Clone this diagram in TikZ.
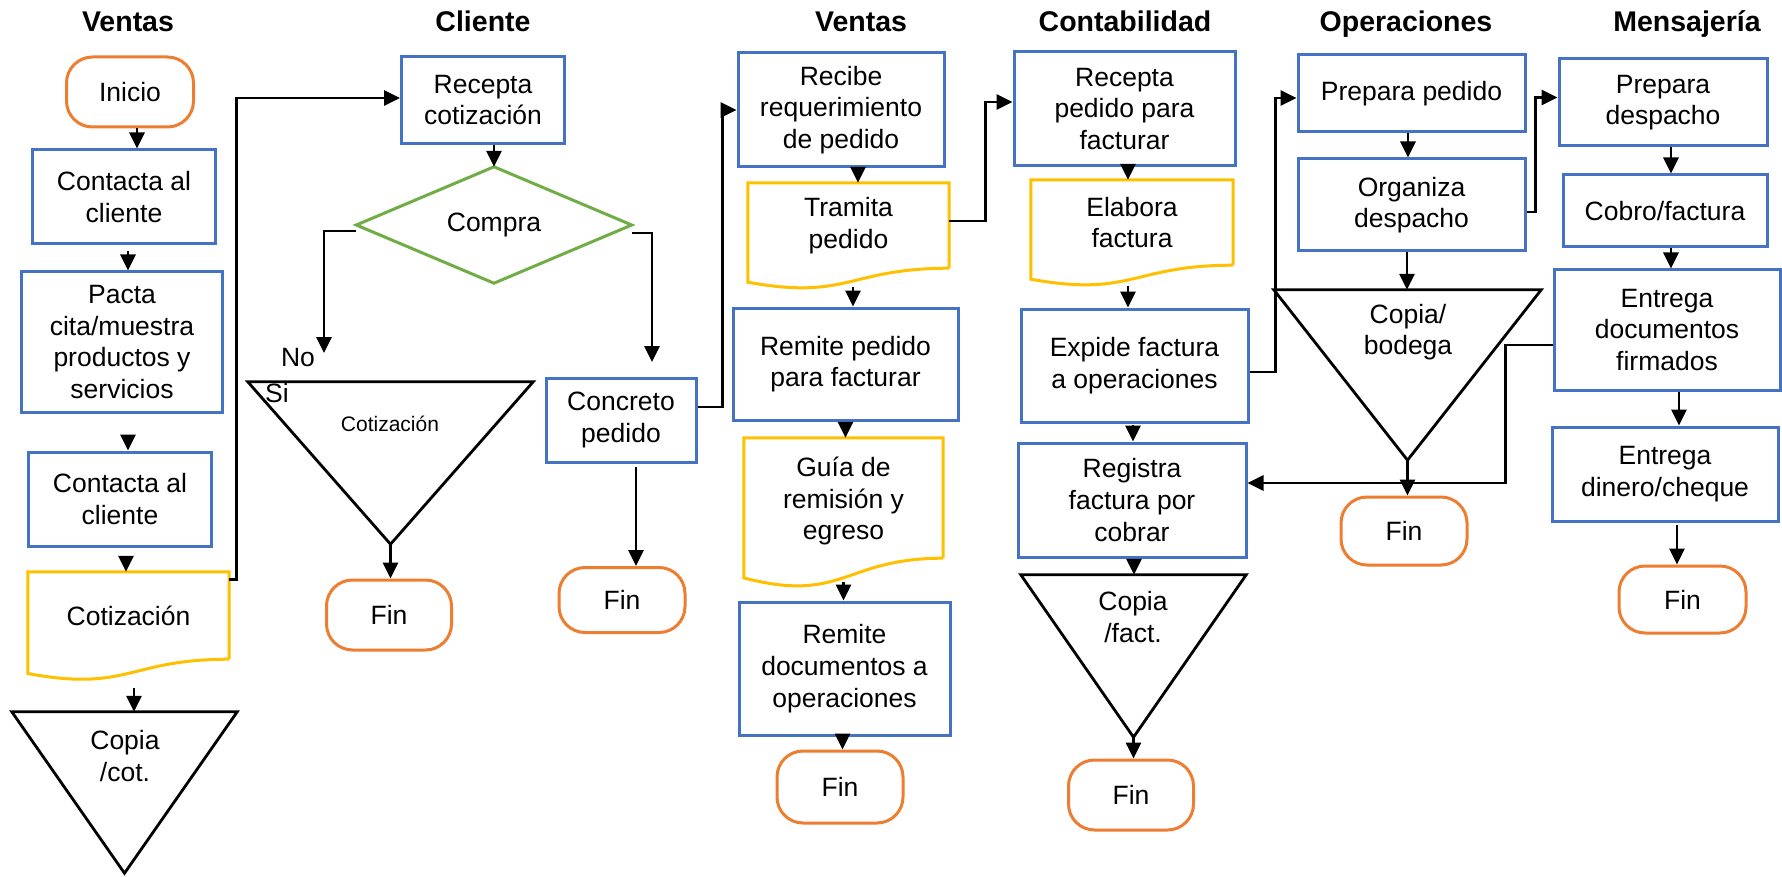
\documentclass[tikz,border=0pt]{standalone}
\usepackage{fontspec}
\setmainfont{Liberation Sans}
\usetikzlibrary{arrows.meta,calc}
\definecolor{bbox}{HTML}{4472C4}
\definecolor{oterm}{HTML}{ED7D31}
\definecolor{ydoc}{HTML}{FFC000}
\definecolor{gdec}{HTML}{70AD47}
\tikzset{
  every node/.style={font=\fontsize{26.5}{31.7}\selectfont, align=center, inner sep=0pt},
  sz/.style 2 args={minimum width=#1pt, minimum height=#2pt},
  proc/.style={draw=bbox, line width=3pt, fill=white},
  term/.style={draw=oterm, line width=3pt, rounded corners=26pt, fill=white},
  ghost/.style={draw=none},
  docline/.style={draw=ydoc, line width=3pt, fill=white},
  triline/.style={draw=black, line width=2.8pt, fill=white},
  decline/.style={draw=gdec, line width=3pt, fill=white},
  arr/.style={line width=2.8pt, -{Triangle[length=16pt,width=15pt]}},
  head/.style={font=\fontsize{28.5}{34}\selectfont\bfseries, anchor=base},
  small/.style={font=\fontsize{21}{25}\selectfont},
}
\newcommand\varr[4]{\draw[arr] ($(#1.south)+(#2,#3)$) -- ($(#1.south |- #4.north)+(#2,0)$);}
\begin{document}
\begin{tikzpicture}[x=1pt,y=-1pt]
\useasboundingbox (0,0) rectangle (1782,877);
\fill[white] (0,0) rectangle (1782,877);

% headings
\node[head] (h1) at (128,32) {Ventas};
\node[head] (h2) at (483,32) {Cliente};
\node[head] (h3) at (861,32) {Ventas};
\node[head] (h4) at (1125,32) {Contabilidad};
\node[head] (h5) at (1406,32) {Operaciones};
\node[head] (h6) at (1687,32) {Mensajería};

% column 1
\node[term, sz={127}{70}] (inicio) at (130,92) {Inicio};
\node[proc, sz={183}{94}] (c1) at (124,197) {Contacta al\\cliente};
\node[proc, sz={201}{140}] (pacta) at (122,342) {Pacta\\cita/muestra\\productos y\\servicios};
\node[proc, sz={183}{94}] (c2) at (120,499) {Contacta al\\cliente};
\node[ghost, sz={201}{87}] (cot) at (128.5,615.5) {};
\draw[docline] (cot.south east) -- (cot.north east) -- (cot.north west) --
  ($(cot.south west)+(0,14.3)$) .. controls ($(cot.south)+(0,33)$) and (cot.south) .. (cot.south east);
\node (cottxt) at (cot) {Cotización};
\node[ghost, sz={225}{161}] (t1) at (124.5,792.5) {};
\draw[triline] (t1.north west) -- (t1.north east) -- (t1.south) -- cycle;
\node (t1txt) at (125,756) {Copia\\/cot.};

% column 2
\node[proc, sz={163}{87}] (recepta) at (483,100) {Recepta\\cotización};
\node[ghost, sz={275}{116}] (compra) at (494,225) {};
\draw[decline] (compra.north) -- (compra.east) -- (compra.south) -- (compra.west) -- cycle;
\node (compratxt) at (compra) {Compra};
\coordinate (noend) at (324,353);
\coordinate (siend) at (652,362);
\node (nolab) at (298,358) {No};
\node[ghost, sz={285}{162}] (t2) at (390.5,463) {};
\draw[triline] (t2.north west) -- (t2.north east) -- (t2.south) -- cycle;
\node (silab) at (277,393) {Si};
\node[small] (t2txt) at (390,424) {Cotización};
\node[term, sz={125}{70}] (fin1) at (389,615) {Fin};

% column 3
\node[proc, sz={150}{84}] (concreto) at (621,420) {Concreto\\pedido};
\node[term, sz={126}{65}] (fin2) at (622,600) {Fin};

% column 4
\node[proc, sz={206}{114}] (recibe) at (841,110) {Recibe\\requerimiento\\de pedido};
\node[ghost, sz={201}{85}] (tramita) at (848.5,225.5) {};
\draw[docline] (tramita.south east) -- (tramita.north east) -- (tramita.north west) --
  ($(tramita.south west)+(0,14)$) .. controls ($(tramita.south)+(0,32.3)$) and (tramita.south) .. (tramita.south east);
\node (tramitatxt) at (tramita) {Tramita\\pedido};
\node[proc, sz={225}{112}] (remitep) at (845.5,364) {Remite pedido\\para facturar};
\node[ghost, sz={199}{120}] (guia) at (843.5,498) {};
\draw[docline] (guia.south east) -- (guia.north east) -- (guia.north west) --
  ($(guia.south west)+(0,19.7)$) .. controls ($(guia.south)+(0,45.6)$) and (guia.south) .. (guia.south east);
\node (guiatxt) at ($(guia)+(0,3)$) {Guía de\\remisión y\\egreso};
\node[proc, sz={211}{133}] (remited) at (844.5,668.5) {Remite\\documentos a\\operaciones};
\node[term, sz={126}{72}] (fin3) at (840,787) {Fin};

% column 5
\node[proc, sz={221}{114}] (recepta2) at (1124.5,109) {Recepta\\pedido para\\facturar};
\node[ghost, sz={202}{85}] (elabora) at (1132,222.5) {};
\draw[docline] (elabora.south east) -- (elabora.north east) -- (elabora.north west) --
  ($(elabora.south west)+(0,14)$) .. controls ($(elabora.south)+(0,32.3)$) and (elabora.south) .. (elabora.south east);
\node (elaboratxt) at (elabora) {Elabora\\factura};
\node[proc, sz={227}{113}] (expide) at (1134.5,365.5) {Expide factura\\a operaciones};
\node[proc, sz={228}{114}] (registra) at (1132,500) {Registra\\factura por\\cobrar};
\node[ghost, sz={225}{162}] (t3) at (1133.5,656) {};
\draw[triline] (t3.north west) -- (t3.north east) -- (t3.south) -- cycle;
\node (t3txt) at (1133,617) {Copia\\/fact.};
\node[term, sz={125}{70}] (fin4) at (1131,795) {Fin};

% column 6
\node[proc, sz={227}{77}] (prepara) at (1411.5,93.5) {Prepara pedido};
\node[proc, sz={227}{92}] (organiza) at (1411.5,205) {Organiza\\despacho};
\node[ghost, sz={267}{170}] (t4) at (1407.5,375) {};
\draw[triline] (t4.north west) -- (t4.north east) -- (t4.south) -- cycle;
\node (t4txt) at (1408,332) {Copia/\\bodega};
\node[term, sz={126}{68}] (fin5) at (1404,531) {Fin};

% column 7
\node[proc, sz={208}{87}] (preparad) at (1663,102.5) {Prepara\\despacho};
\node[proc, sz={204}{72}] (cobro) at (1665,211) {Cobro/factura};
\node[proc, sz={226}{120}] (entrega1) at (1667,330) {Entrega\\documentos\\firmados};
\node[proc, sz={226}{94}] (entrega2) at (1665,474) {Entrega\\dinero/cheque};
\node[term, sz={127}{67}] (fin6) at (1682.5,599.5) {Fin};

% vertical arrows
\varr{inicio}{7}{0}{c1}
\varr{c1}{4}{6}{pacta}
\varr{pacta}{6}{23}{c2}
\varr{c2}{6}{11}{cot}
\varr{cot}{5.5}{29}{t1}
\draw[arr] (recepta.south -| compra.north) -- (compra.north);
\varr{t2}{0}{0}{fin1}
\varr{concreto}{15}{3}{fin2}
\varr{recibe}{17}{0}{tramita}
\varr{tramita}{4.5}{19}{remitep}
\varr{remitep}{0}{3}{guia}
\varr{guia}{0}{24}{remited}
\varr{remited}{-2}{5}{fin3}
\varr{recepta2}{3.5}{0}{elabora}
\varr{elabora}{-4}{21}{expide}
\varr{expide}{-1.5}{1}{registra}
\varr{registra}{2}{0}{t3}
\varr{t3}{0}{0}{fin4}
\varr{prepara}{-3.5}{0}{organiza}
\varr{organiza}{-4.5}{0}{t4}
\varr{t4}{0}{0}{fin5}
\varr{preparad}{8}{0}{cobro}
\varr{cobro}{6}{0}{entrega1}
\varr{entrega1}{12}{0}{entrega2}
\varr{entrega2}{12}{2}{fin6}

% elbow connectors
\draw[arr] ($(cot.north east)+(0,8)$) -- ++(7,0) |- ($(recepta.west)+(0,-2)$);
\draw[arr] ($(compra.west)+(0,6)$) -| (noend);
\draw[arr] ($(compra.east)+(0,8)$) -| (siend);
\draw[arr] ($(concreto.east)+(0,-13)$) -- ++(25,0) |- (recibe.west);
\draw[arr] ($(tramita.east)+(0,-4.5)$) -- ++(36,0) |- ($(recepta2.west)+(0,-7)$);
\draw[arr] ($(expide.east)+(0,6.5)$) -- ++(26,0) |- ($(prepara.west)+(0,4.5)$);
\draw[arr] ($(organiza.east)+(0,7)$) -- ++(9,0) |- ($(preparad.west)+(0,-5)$);
\draw[arr] ($(entrega1.west)+(0,15)$) -- ++(-47,0) |- ($(registra.east)+(0,-17)$);
\end{tikzpicture}
\end{document}
